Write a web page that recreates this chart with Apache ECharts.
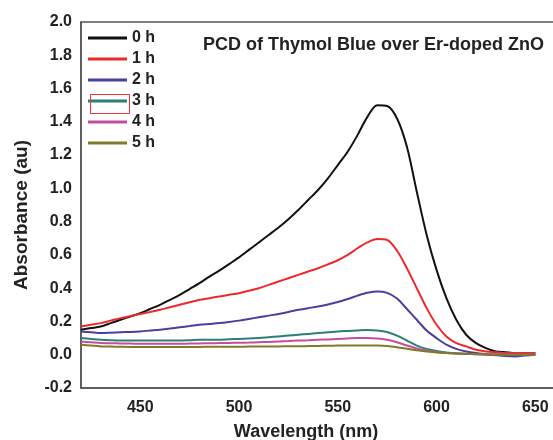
<!DOCTYPE html>
<html>
<head>
<meta charset="utf-8">
<script src="https://cdn.jsdelivr.net/npm/echarts@6/dist/echarts.min.js"></script>
<style>
  html, body { margin: 0; padding: 0; background: #fff; }
  #chart { width: 553px; height: 440px; }
</style>
</head>
<body>
<div id="chart"></div>
<script>
// wavelength (nm), 5 nm steps, shared by every curve
const wavelengths = [420, 425, 430, 435, 440, 445, 450, 455, 460, 465, 470, 475, 480, 485, 490, 495,
  500, 505, 510, 515, 520, 525, 530, 535, 540, 545, 550, 555, 560, 565, 570, 575,
  580, 585, 590, 595, 600, 605, 610, 615, 620, 625, 630, 635, 640, 645, 650];

const abs0h = [0.15, 0.16, 0.17, 0.19, 0.21, 0.23, 0.25, 0.275, 0.30, 0.33, 0.36, 0.395, 0.43, 0.47, 0.505, 0.545,
  0.585, 0.63, 0.675, 0.72, 0.765, 0.815, 0.87, 0.93, 0.99, 1.06, 1.14, 1.22, 1.32, 1.43, 1.50, 1.495,
  1.42, 1.25, 0.98, 0.72, 0.51, 0.34, 0.21, 0.12, 0.07, 0.04, 0.02, 0.015, 0.01, 0.01, 0.01];
const abs1h = [0.17, 0.18, 0.19, 0.205, 0.22, 0.232, 0.245, 0.257, 0.27, 0.285, 0.30, 0.315, 0.33, 0.34, 0.35, 0.36,
  0.37, 0.385, 0.40, 0.42, 0.44, 0.46, 0.48, 0.50, 0.52, 0.543, 0.568, 0.60, 0.64, 0.675, 0.695, 0.69,
  0.625, 0.52, 0.40, 0.28, 0.18, 0.11, 0.07, 0.05, 0.03, 0.02, 0.015, 0.01, 0.01, 0.01, 0.01];
const abs2h = [0.14, 0.135, 0.13, 0.132, 0.135, 0.137, 0.14, 0.145, 0.15, 0.157, 0.165, 0.172, 0.18, 0.185, 0.19, 0.197,
  0.205, 0.215, 0.225, 0.235, 0.245, 0.257, 0.27, 0.28, 0.29, 0.302, 0.317, 0.335, 0.355, 0.372, 0.38, 0.372,
  0.338, 0.275, 0.21, 0.145, 0.10, 0.06, 0.035, 0.02, 0.01, 0.003, -0.003, -0.008, -0.01, -0.005, 0.0];
const abs3h = [0.10, 0.095, 0.09, 0.087, 0.085, 0.085, 0.085, 0.085, 0.085, 0.085, 0.085, 0.087, 0.09, 0.09, 0.09, 0.093,
  0.095, 0.098, 0.10, 0.105, 0.11, 0.115, 0.12, 0.125, 0.13, 0.135, 0.14, 0.143, 0.146, 0.148, 0.146, 0.137,
  0.115, 0.085, 0.055, 0.035, 0.022, 0.014, 0.009, 0.006, 0.004, 0.002, 0.001, 0, 0, 0, 0];
const abs4h = [0.08, 0.075, 0.07, 0.069, 0.068, 0.067, 0.066, 0.066, 0.066, 0.066, 0.066, 0.067, 0.068, 0.069, 0.07, 0.071,
  0.072, 0.073, 0.075, 0.077, 0.08, 0.082, 0.085, 0.087, 0.09, 0.092, 0.095, 0.098, 0.10, 0.10, 0.098, 0.09,
  0.075, 0.055, 0.038, 0.025, 0.016, 0.01, 0.007, 0.005, 0.003, 0.002, 0.001, 0, 0, 0, 0];
const abs5h = [0.06, 0.055, 0.05, 0.049, 0.048, 0.047, 0.047, 0.047, 0.047, 0.047, 0.047, 0.047, 0.047, 0.048, 0.048, 0.048,
  0.048, 0.049, 0.049, 0.05, 0.05, 0.051, 0.051, 0.052, 0.053, 0.054, 0.055, 0.056, 0.056, 0.056, 0.055, 0.052,
  0.045, 0.036, 0.027, 0.02, 0.014, 0.01, 0.007, 0.005, 0.003, 0.002, 0.001, 0, 0, 0, 0];

const xTicks = [450, 500, 550, 600, 650];

const curves = [
  { name: '0 h', data: abs0h, color: '#111111' },
  { name: '1 h', data: abs1h, color: '#ec2a2e' },
  { name: '2 h', data: abs2h, color: '#4a3f9c' },
  { name: '3 h', data: abs3h, color: '#2c7f76' },
  { name: '4 h', data: abs4h, color: '#c64ca0' },
  { name: '5 h', data: abs5h, color: '#7f7b28' }
];

const font = 'Liberation Sans, Arial, sans-serif';
const chart = echarts.init(document.getElementById('chart'));

chart.setOption({
  animation: false,
  backgroundColor: '#fff',
  grid: {
    left: 81, top: 22, bottom: 52, right: -6,
    outerBoundsMode: 'none',
    show: true, borderColor: '#555', borderWidth: 1.5
  },
  title: {
    text: 'PCD of Thymol Blue over Er-doped ZnO',
    left: 198, top: 31,
    textStyle: { fontFamily: font, fontSize: 18, fontWeight: 'bold', color: '#222' }
  },
  legend: {
    orient: 'vertical', left: 88, top: 30, padding: 0,
    icon: 'rect', itemWidth: 39, itemHeight: 3, itemGap: 5,
    textStyle: { fontFamily: font, fontSize: 16, fontWeight: 'bold', color: '#222', lineHeight: 14 },
    data: curves.map(c => c.name)
  },
  xAxis: {
    type: 'value', min: 420, max: 662,
    name: 'Wavelength (nm)', nameLocation: 'middle', nameGap: 35,
    nameTextStyle: { fontFamily: font, fontSize: 18, fontWeight: 'bold', color: '#222', padding: [0, 28, 0, 0] },
    axisLine: { show: true, onZero: false, lineStyle: { color: '#555', width: 1.5 } },
    axisTick: { show: false },
    splitLine: { show: false },
    axisLabel: {
      customValues: xTicks, margin: 12,
      fontFamily: font, fontSize: 16, fontWeight: 'bold', color: '#222'
    }
  },
  yAxis: {
    type: 'value', min: -0.2, max: 2.0, interval: 0.2,
    name: 'Absorbance (au)', nameLocation: 'middle', nameGap: 50,
    nameTextStyle: { fontFamily: font, fontSize: 19, fontWeight: 'bold', color: '#222', padding: [0, 20, 0, 0] },
    axisLine: { show: true, onZero: false, lineStyle: { color: '#555', width: 1.5 } },
    axisTick: { show: false },
    splitLine: { show: false },
    axisLabel: {
      margin: 9, fontFamily: font, fontSize: 16, fontWeight: 'bold', color: '#222',
      formatter: v => v.toFixed(1)
    }
  },
  graphic: [{
    // red box drawn round the 3 h legend key in the original
    type: 'rect', left: 88, top: 92,
    shape: { width: 39, height: 19 },
    style: { fill: 'none', stroke: '#e8333a', lineWidth: 1 }, z: 100
  }],
  series: curves.map(c => ({
    name: c.name,
    type: 'line',
    smooth: 0.3,
    symbol: 'none',
    lineStyle: { color: c.color, width: 2 },
    itemStyle: { color: c.color },
    data: wavelengths.map((w, i) => [w, c.data[i]])
  }))
});
</script>
</body>
</html>
